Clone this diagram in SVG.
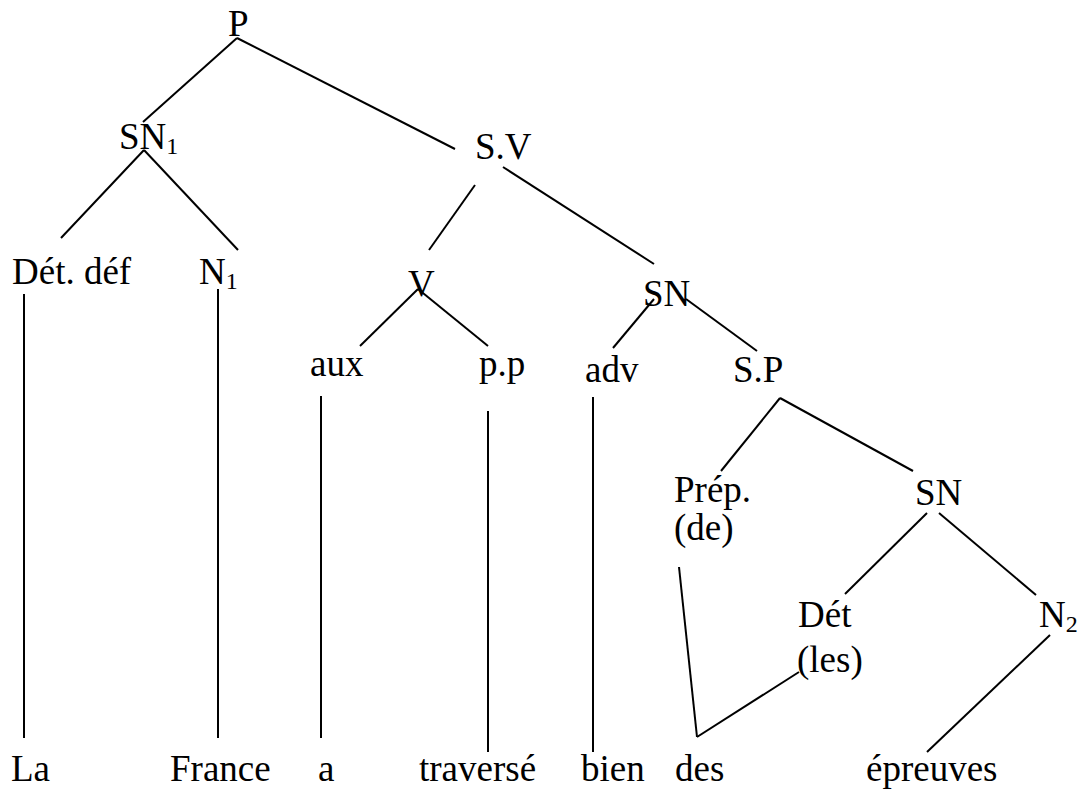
<svg xmlns="http://www.w3.org/2000/svg" width="1080" height="789" viewBox="0 0 1080 789">
<style>
text{font-family:"Liberation Serif","Times New Roman",serif;font-size:37px;fill:#000}
.sub{font-size:24px}
line{stroke:#000;stroke-width:2;stroke-linecap:butt}
</style>
<rect width="1080" height="789" fill="#fff"/>
<g id="connectors">
<line x1="237" y1="38" x2="143" y2="122"/>
<line x1="237" y1="38" x2="455" y2="149"/>
<line x1="144" y1="150" x2="61" y2="238"/>
<line x1="144" y1="150" x2="238" y2="250"/>
<line x1="475" y1="185" x2="429" y2="250"/>
<line x1="503" y1="167" x2="654" y2="264"/>
<line x1="418" y1="289" x2="360" y2="346"/>
<line x1="418" y1="289" x2="488" y2="346"/>
<line x1="654" y1="299" x2="613" y2="348"/>
<line x1="686" y1="299" x2="757" y2="351"/>
<line x1="780" y1="398" x2="721" y2="471"/>
<line x1="780" y1="398" x2="913" y2="471"/>
<line x1="927" y1="513" x2="845" y2="594"/>
<line x1="939" y1="513" x2="1036" y2="595"/>
<line x1="24" y1="294" x2="24" y2="738"/>
<line x1="218" y1="289" x2="218" y2="738"/>
<line x1="321" y1="396" x2="321" y2="738"/>
<line x1="488" y1="411" x2="488" y2="752"/>
<line x1="593" y1="397" x2="593" y2="752"/>
<line x1="679" y1="567" x2="697" y2="737"/>
<line x1="697" y1="737" x2="799" y2="672"/>
<line x1="1050" y1="635" x2="927" y2="752"/>
</g>
<g id="n-P"><text x="228" y="36">P</text></g>
<g id="n-SN1"><text x="119" y="149">SN<tspan class="sub" dy="5">1</tspan></text></g>
<g id="n-SV"><text x="475" y="159">S.V</text></g>
<g id="n-Detdef"><text x="12" y="284">Dét. déf</text></g>
<g id="n-N1"><text x="199" y="284">N<tspan class="sub" dy="5">1</tspan></text></g>
<g id="n-V"><text x="408" y="296">V</text></g>
<g id="n-SN"><text x="643" y="306">SN</text></g>
<g id="n-aux"><text x="310" y="376">aux</text></g>
<g id="n-pp"><text x="479" y="376">p.p</text></g>
<g id="n-adv"><text x="585" y="382">adv</text></g>
<g id="n-SP"><text x="733" y="382">S.P</text></g>
<g id="n-Prep"><text x="674" y="502">Prép.</text><text x="674" y="540">(de)</text></g>
<g id="n-SN2"><text x="915" y="505">SN</text></g>
<g id="n-Det"><text x="798" y="627">Dét</text><text x="797" y="672">(les)</text></g>
<g id="n-N2"><text x="1039" y="627">N<tspan class="sub" dy="5">2</tspan></text></g>
<g id="w-La"><text x="11" y="781">La</text></g>
<g id="w-France"><text x="170" y="781">France</text></g>
<g id="w-a"><text x="318" y="781">a</text></g>
<g id="w-traverse"><text x="419" y="781">traversé</text></g>
<g id="w-bien"><text x="581" y="781">bien</text></g>
<g id="w-des"><text x="675" y="781">des</text></g>
<g id="w-epreuves"><text x="866" y="781">épreuves</text></g>
</svg>
